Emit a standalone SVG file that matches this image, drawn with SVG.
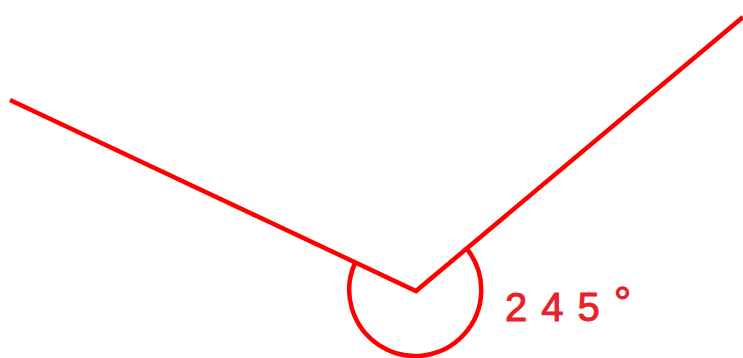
<svg xmlns="http://www.w3.org/2000/svg" width="743" height="358" viewBox="0 0 743 358">
<style>
.ln{fill:none;stroke:#ff0000;stroke-width:4.5;stroke-linecap:butt}
.lbl{font-family:"Liberation Sans",Arial,sans-serif;font-size:40px;fill:#e8202a;stroke:#e8202a;stroke-width:1;letter-spacing:14px}
</style>
<rect width="743" height="358" fill="#ffffff"/>
<g id="angle">
<path class="ln" d="M10,100 L416,291 L743,17"/>
<path class="ln" d="M355,263 A66,66 0 1 0 467,249"/>
</g>
<g id="label">
<text class="lbl" x="505" y="321">245<tspan font-size="44" dy="-3">°</tspan></text>
</g>
</svg>
